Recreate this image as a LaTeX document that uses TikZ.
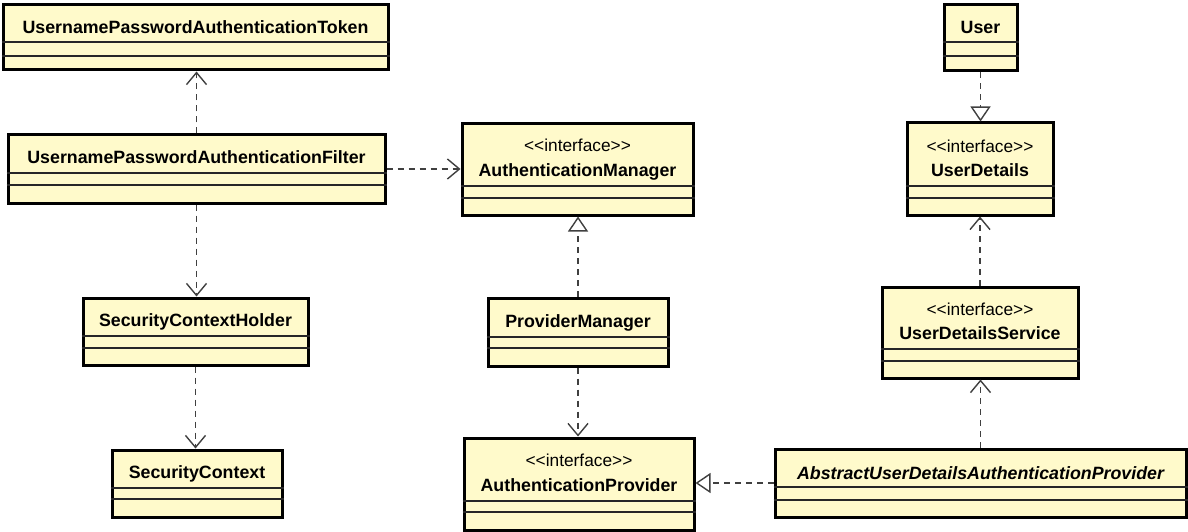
\documentclass[tikz,border=0pt]{standalone}
\usepackage{fontspec}
\setmainfont{Liberation Sans}
\usepackage{xcolor}
\usepackage{tikz}
\usetikzlibrary{shapes, arrows.meta}

\definecolor{classfill}{HTML}{FFFACB}
\definecolor{linkgray}{HTML}{404040}

\tikzset{
	classbox/.style={draw, line width=3pt, fill=classfill, inner sep=0pt},
	classname/.style={font=\bfseries\fontsize{17.8}{20}\selectfont, inner sep=0pt, text height=12.7pt, text depth=0pt},
	stereo/.style={font=\fontsize{17.3}{20}\selectfont, inner sep=0pt, text height=12.4pt, text depth=0pt},
	sepline/.style={line width=1.3pt, draw=black!85},
	dep/.style={draw=linkgray, line width=1.4pt, dash pattern=on 6pt off 5pt, -{Straight Barb[length=12pt, width=20pt, line width=1.4pt]}},
	real/.style={draw=linkgray, line width=1.4pt, dash pattern=on 6pt off 5pt, -{Triangle[open, length=15pt, width=20pt, line width=1.4pt]}}
}

\begin{document}
\begin{tikzpicture}[x=1pt, y=-1pt]
		\useasboundingbox (0,0) rectangle (1188,532);

		% left column
		\node[classbox, minimum width=385pt, minimum height=65pt] (tok) at (195.5,37.5) {};
		\node[classname] (tokname) at (195.5,27) {UsernamePasswordAuthenticationToken};
		\draw[sepline] (tok.west |- 0,42) -- (tok.east |- 0,42);
		\draw[sepline] (tok.west |- 0,56) -- (tok.east |- 0,56);

		\node[classbox, minimum width=377pt, minimum height=68pt] (filt) at (196.5,169) {};
		\node[classname] (filtname) at (196.5,157) {UsernamePasswordAuthenticationFilter};
		\draw[sepline] (filt.west |- 0,173) -- (filt.east |- 0,173);
		\draw[sepline] (filt.west |- 0,185) -- (filt.east |- 0,185);

		\node[classbox, minimum width=225pt, minimum height=67pt] (sch) at (195.5,331.5) {};
		\node[classname] (schname) at (195.5,320) {SecurityContextHolder};
		\draw[sepline] (sch.west |- 0,336) -- (sch.east |- 0,336);
		\draw[sepline] (sch.west |- 0,348) -- (sch.east |- 0,348);

		\node[classbox, minimum width=170pt, minimum height=67pt] (sc) at (197,483.5) {};
		\node[classname] (scname) at (197,472) {SecurityContext};
		\draw[sepline] (sc.west |- 0,488) -- (sc.east |- 0,488);
		\draw[sepline] (sc.west |- 0,499) -- (sc.east |- 0,499);

		% middle column
		\node[classbox, minimum width=231pt, minimum height=91pt] (am) at (577.5,169.5) {};
		\node[stereo] (amstereo) at (577.5,145) {<{}<interface>{}>};
		\node[classname] (amname) at (577.5,170) {AuthenticationManager};
		\draw[sepline] (am.west |- 0,186) -- (am.east |- 0,186);
		\draw[sepline] (am.west |- 0,198) -- (am.east |- 0,198);

		\node[classbox, minimum width=180pt, minimum height=68pt] (pm) at (578,332) {};
		\node[classname] (pmname) at (578,321) {ProviderManager};
		\draw[sepline] (pm.west |- 0,337) -- (pm.east |- 0,337);
		\draw[sepline] (pm.west |- 0,348) -- (pm.east |- 0,348);

		\node[classbox, minimum width=230pt, minimum height=92pt] (ap) at (579,484) {};
		\node[stereo] (apstereo) at (579,460) {<{}<interface>{}>};
		\node[classname] (apname) at (579,485) {AuthenticationProvider};
		\draw[sepline] (ap.west |- 0,501) -- (ap.east |- 0,501);
		\draw[sepline] (ap.west |- 0,512) -- (ap.east |- 0,512);

		% right column
		\node[classbox, minimum width=73pt, minimum height=66pt] (usr) at (980.5,38) {};
		\node[classname] (usrname) at (980.5,27) {User};
		\draw[sepline] (usr.west |- 0,42) -- (usr.east |- 0,42);
		\draw[sepline] (usr.west |- 0,56) -- (usr.east |- 0,56);

		\node[classbox, minimum width=146pt, minimum height=92pt] (ud) at (980,169) {};
		\node[stereo] (udstereo) at (980,146) {<{}<interface>{}>};
		\node[classname] (udname) at (980,170) {UserDetails};
		\draw[sepline] (ud.west |- 0,186) -- (ud.east |- 0,186);
		\draw[sepline] (ud.west |- 0,198) -- (ud.east |- 0,198);

		\node[classbox, minimum width=196pt, minimum height=91pt] (uds) at (980,332.5) {};
		\node[stereo] (udsstereo) at (980,309) {<{}<interface>{}>};
		\node[classname] (udsname) at (980,333) {UserDetailsService};
		\draw[sepline] (uds.west |- 0,349) -- (uds.east |- 0,349);
		\draw[sepline] (uds.west |- 0,361) -- (uds.east |- 0,361);

		\node[classbox, minimum width=411pt, minimum height=68pt] (abs) at (980.5,483) {};
		\node[classname, font=\bfseries\itshape\fontsize{17.8}{20}\selectfont] (absname) at (980.5,473) {AbstractUserDetailsAuthenticationProvider};
		\draw[sepline] (abs.west |- 0,487) -- (abs.east |- 0,487);
		\draw[sepline] (abs.west |- 0,500) -- (abs.east |- 0,500);

		% connectors
		\draw[dep] (filt.north) -- (filt.north |- tok.south);
		\draw[dep] (filt.east) -- (filt.east -| am.west);
		\draw[dep] (filt.south) -- (filt.south |- sch.north);
		\draw[dep] (sch.south) -- (sch.south |- sc.north);
		\draw[real] (pm.north) -- (pm.north |- am.south);
		\draw[dep] (pm.south) -- (pm.south |- ap.north);
		\draw[real] (abs.west) -- (abs.west -| ap.east);
		\draw[dep] (abs.north) -- (abs.north |- uds.south);
		\draw[dep] (uds.north) -- (uds.north |- ud.south);
		\draw[real] (usr.south) -- (usr.south |- ud.north);
	\end{tikzpicture}
\end{document}
